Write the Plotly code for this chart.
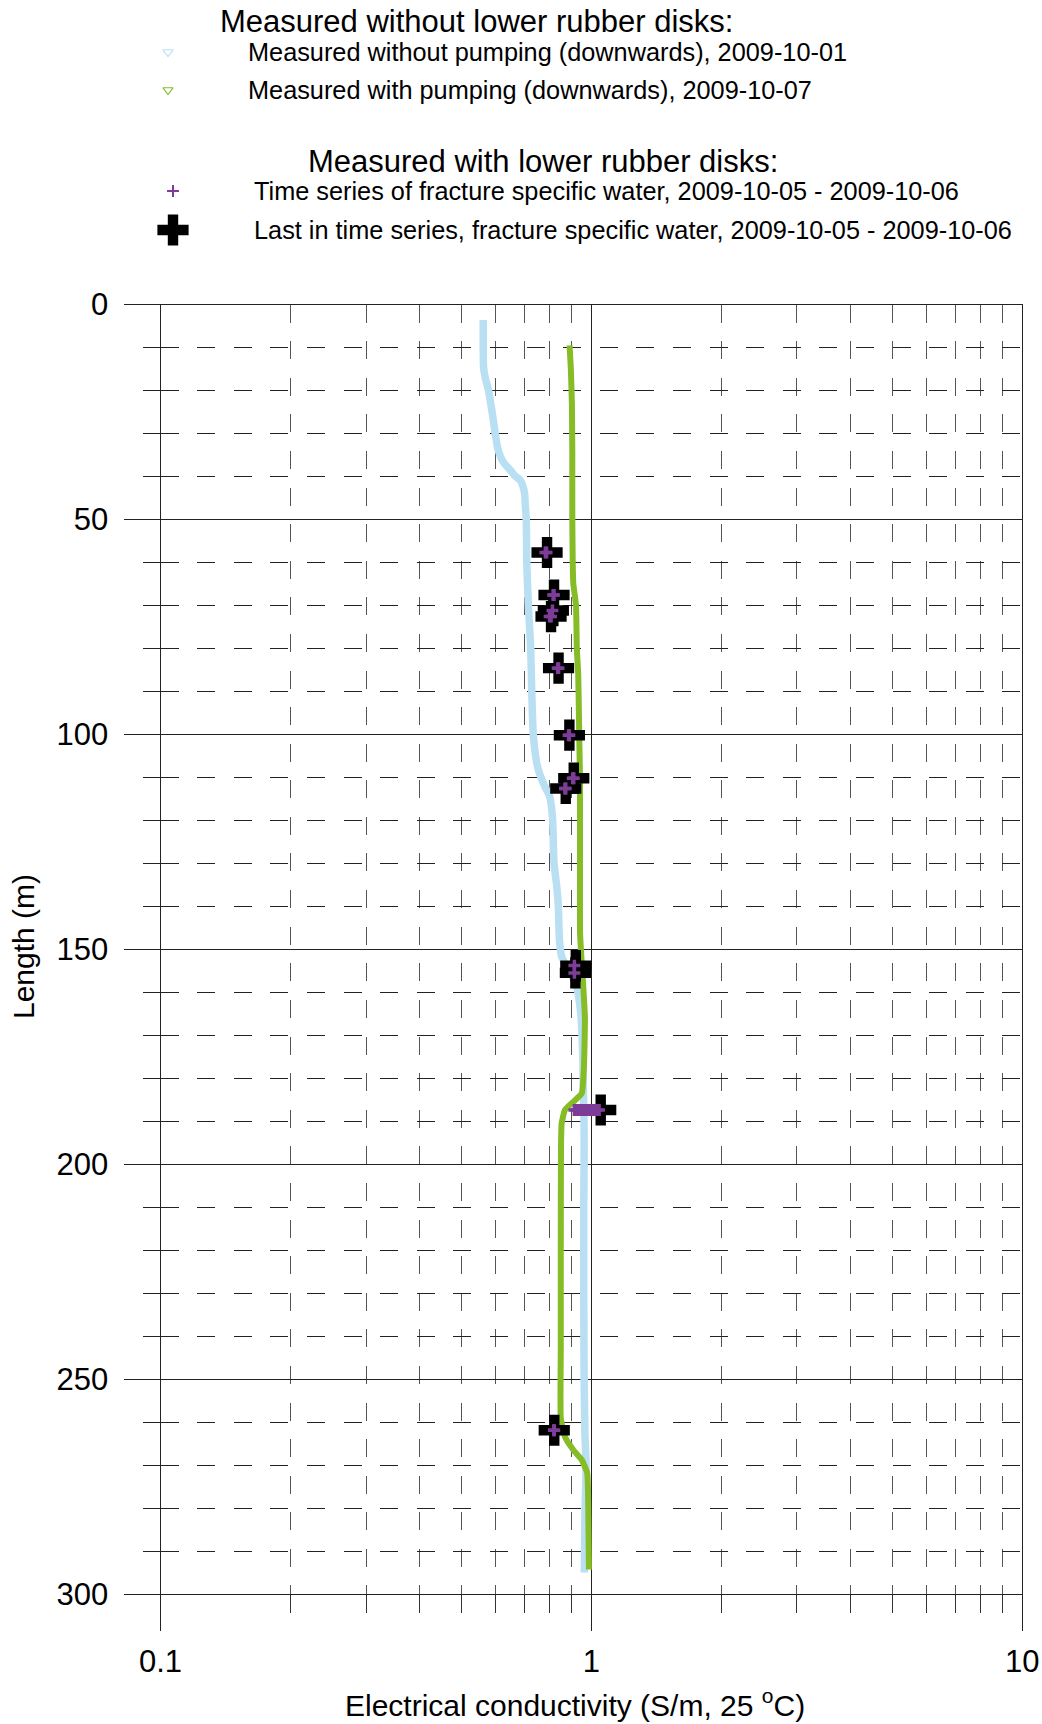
import plotly.graph_objects as go

W, H = 1042, 1724

# ---------------- data ----------------
# Measured without pumping (downwards), 2009-10-01
blue_depth = [3.6, 10, 14.6, 17, 20, 25.4, 30, 33, 35.4, 37, 38.5, 39.7, 40.9, 42.4, 44, 46.3,
              50, 60, 70, 80, 90, 100, 105.8, 108, 110.5, 112.5, 114.4, 117, 120, 130, 135.4,
              140, 147.8, 151.7, 154, 158, 165, 175, 183, 188.9, 196, 210, 230, 243, 250,
              262.6, 270.3, 282, 295]
blue_ec = [0.561, 0.561, 0.562, 0.567, 0.577, 0.589, 0.598, 0.605, 0.615, 0.628, 0.648, 0.662,
           0.684, 0.694, 0.700, 0.702, 0.706, 0.708, 0.714, 0.723, 0.727, 0.733, 0.744, 0.752,
           0.767, 0.783, 0.800, 0.808, 0.813, 0.819, 0.831, 0.838, 0.843, 0.853, 0.876, 0.920,
           0.945, 0.955, 0.958, 0.961, 0.962, 0.960, 0.960, 0.961, 0.962, 0.966, 0.972, 0.966,
           0.963]

# Measured with pumping (downwards), 2009-10-07
green_depth = [9.5, 15, 23, 35, 50, 60, 65, 70, 80, 86, 100, 111, 115, 130, 146, 152, 159, 166,
               177, 183.5, 185.5, 187.4, 190.5, 196, 220, 243, 259, 263.4, 266.5, 268.8, 271.9,
               282, 294.3]
green_ec = [0.890, 0.896, 0.901, 0.903, 0.903, 0.905, 0.908, 0.921, 0.925, 0.932, 0.937, 0.941,
            0.941, 0.941, 0.941, 0.948, 0.958, 0.966, 0.961, 0.950, 0.908, 0.868, 0.853, 0.850,
            0.849, 0.849, 0.849, 0.868, 0.908, 0.950, 0.978, 0.984, 0.987]

# Time series of fracture specific water, 2009-10-05 - 2009-10-06
ts_depth = [57.7, 57.7, 67.6, 67.6, 71.2, 72.6, 72.6, 84.6, 84.6, 100.2, 100.2, 110.2, 110.2,
            112.6, 112.6, 153.8, 155.5,
            187.4, 187.4, 187.4, 187.4, 187.4, 187.4, 187.4, 187.4, 187.4, 187.4, 187.4,
            261.9, 261.9]
ts_ec = [0.782, 0.787, 0.815, 0.819, 0.812, 0.806, 0.800, 0.835, 0.839, 0.885, 0.889, 0.905,
         0.910, 0.868, 0.872, 0.913, 0.913,
         0.913, 0.925, 0.937, 0.950, 0.962, 0.975, 0.988, 1.001, 1.014, 1.028, 1.042,
         0.818, 0.820]

# Last in time series, fracture specific water, 2009-10-05 - 2009-10-06
last_depth = [57.7, 67.6, 71.2, 72.6, 84.6, 100.2, 110.2, 112.6, 153.8, 155.5, 187.4, 261.9]
last_ec = [0.789, 0.819, 0.816, 0.806, 0.839, 0.889, 0.910, 0.872, 0.920, 0.918, 1.051, 0.820]

x_tickvals = [0.1, 1, 10]
x_ticktext = ["0.1", "1", "10"]
x_minor_vals = [0.2, 0.3, 0.4, 0.5, 0.6, 0.7, 0.8, 0.9, 2, 3, 4, 5, 6, 7, 8, 9]
y_tickvals = [0, 50, 100, 150, 200, 250, 300]
y_minor_vals = [10, 20, 30, 40, 60, 70, 80, 90, 110, 120, 130, 140, 160, 170, 180, 190,
                210, 220, 230, 240, 260, 270, 280, 290]

header_texts = ["Measured without lower rubber disks:", "Measured with lower rubber disks:"]
series_names = ["Measured without pumping (downwards), 2009-10-01",
                "Measured with pumping (downwards), 2009-10-07",
                "Time series of fracture specific water, 2009-10-05 - 2009-10-06",
                "Last in time series, fracture specific water, 2009-10-05 - 2009-10-06"]
x_title = "Electrical conductivity (S/m, 25 <sup>o</sup>C)"
y_title = "Length (m)"

# ---------------- styles / layout (page pixels) ----------------
FONT = "Liberation Sans, Arial, sans-serif"
C_BLUE = "#B9E0F2"
C_GREEN = "#86BC25"
C_PURPLE = "#7D3C98"
C_BLACK = "#000000"

PL, PR, PT, PB = 160.5, 1022.3, 304.5, 1594.0


def fx(px):  # page px -> paper x
    return px / W


def fy(py):  # page py -> paper y
    return 1 - py / H


m_blue = dict(symbol="triangle-down-open", size=9, color=C_BLUE, line=dict(width=1.2, color=C_BLUE))
m_green = dict(symbol="triangle-down-open", size=9, color=C_GREEN, line=dict(width=1.2, color=C_GREEN))
m_purple = dict(symbol="cross-thin-open", size=8.5, color=C_PURPLE, line=dict(width=3.5, color=C_PURPLE))
m_purple_leg = dict(symbol="cross-thin-open", size=8.5, color=C_PURPLE, line=dict(width=2, color=C_PURPLE))
m_black = dict(symbol="cross", size=26, color=C_BLACK, line=dict(width=0))

# legend key placement (page pixels from top-left)
leg_sym_x = [168, 168, 173, 173]
leg_sym_y = [52, 90, 191, 230]
leg_txt_x = [246, 246, 252, 252]
leg_txt_y = [52, 90, 191, 230]
leg_hdr_x = [218, 306]
leg_hdr_y = [22, 161.5]

fig = go.Figure()

fig.add_trace(go.Scatter(x=blue_ec, y=blue_depth, mode="lines", name=series_names[0],
                         line=dict(color=C_BLUE, width=7.5, shape="spline", smoothing=0.6),
                         showlegend=False))
fig.add_trace(go.Scatter(x=green_ec, y=green_depth, mode="lines", name=series_names[1],
                         line=dict(color=C_GREEN, width=6, shape="spline", smoothing=0.4),
                         showlegend=False))
fig.add_trace(go.Scatter(x=last_ec, y=last_depth, mode="markers", name=series_names[3],
                         marker=m_black, showlegend=False))
fig.add_trace(go.Scatter(x=ts_ec, y=ts_depth, mode="markers", name=series_names[2],
                         marker=m_purple, showlegend=False))

# legend keys on an auxiliary page-pixel axis pair
for i, mk in enumerate([m_blue, m_green, m_purple_leg, m_black]):
    fig.add_trace(go.Scatter(x=[leg_sym_x[i]], y=[leg_sym_y[i]], mode="markers", marker=mk,
                             xaxis="x2", yaxis="y2", showlegend=False, hoverinfo="skip",
                             cliponaxis=False))

ann = []
for i, t in enumerate(header_texts):
    ann.append(dict(text=t, x=fx(leg_hdr_x[i]), y=fy(leg_hdr_y[i]), xref="paper", yref="paper",
                    xanchor="left", yanchor="middle", showarrow=False,
                    font=dict(family=FONT, size=31, color="black")))
for i, t in enumerate(series_names):
    ann.append(dict(text=t, x=fx(leg_txt_x[i]), y=fy(leg_txt_y[i]), xref="paper", yref="paper",
                    xanchor="left", yanchor="middle", showarrow=False,
                    font=dict(family=FONT, size=25.3, color="black")))
ann.append(dict(text=x_title, x=fx(575), y=0, xref="paper", yref="paper",
                xanchor="center", yanchor="bottom", showarrow=False,
                font=dict(family=FONT, size=30, color="black")))
ann.append(dict(text=y_title, x=fx(24), y=fy(947), xref="paper", yref="paper",
                xanchor="center", yanchor="middle", showarrow=False, textangle=-90,
                font=dict(family=FONT, size=30, color="black")))

DASH = "18px,18.6px"
fig.update_layout(
    width=W, height=H,
    margin=dict(l=0, r=0, t=0, b=0, pad=0),
    paper_bgcolor="white", plot_bgcolor="rgba(0,0,0,0)",
    showlegend=False,
    annotations=ann,
    font=dict(family=FONT, size=30, color="black"),
    xaxis=dict(
        domain=[fx(PL), fx(PR)], type="log", range=[-1, 1], anchor="y",
        tickmode="array", tickvals=x_tickvals, ticktext=x_ticktext,
        ticks="outside", ticklen=36, tickwidth=1, tickcolor="#222",
        showgrid=True, gridcolor="#222", gridwidth=1,
        showline=True, linecolor="#222", linewidth=1, mirror=True,
        zeroline=False, automargin=False, ticklabelstandoff=4,
        tickfont=dict(family=FONT, size=31, color="black"),
        minor=dict(tickmode="array", tickvals=x_minor_vals, ticks="outside", ticklen=18,
                   tickwidth=1, tickcolor="#333", showgrid=True, gridcolor="#555",
                   gridwidth=1, griddash=DASH),
    ),
    yaxis=dict(
        domain=[fy(PB), fy(PT)], range=[300, 0], anchor="x",
        tickmode="array", tickvals=y_tickvals,
        ticks="outside", ticklen=36, tickwidth=1, tickcolor="#222",
        showgrid=True, gridcolor="#222", gridwidth=1,
        showline=True, linecolor="#222", linewidth=1, mirror=True,
        zeroline=False, automargin=False, ticklabelstandoff=9,
        tickfont=dict(family=FONT, size=31, color="black"),
        minor=dict(tickmode="array", tickvals=y_minor_vals, ticks="outside", ticklen=17,
                   tickwidth=1, tickcolor="#222", showgrid=True, gridcolor="#222",
                   gridwidth=1, griddash=DASH),
    ),
    xaxis3=dict(
        type="log", range=[-1, 1], overlaying="x", anchor="y", side="bottom",
        showgrid=False, showticklabels=False, ticks="", showline=False, zeroline=False,
        automargin=False,
        minor=dict(tickmode="array", tickvals=x_minor_vals, ticks="inside", ticklen=18,
                   tickwidth=1, tickcolor="#333", showgrid=False),
    ),
    xaxis2=dict(domain=[0, 1], range=[0, W], visible=False, anchor="y2", fixedrange=True),
    yaxis2=dict(domain=[0, 1], range=[H, 0], visible=False, anchor="x2", fixedrange=True),
)

# remove the browser's default 8 px body margin so the figure fills the window exactly
fig.write_html("out.html", config={"displayModeBar": False},
               post_script="document.body.style.margin='0';")
